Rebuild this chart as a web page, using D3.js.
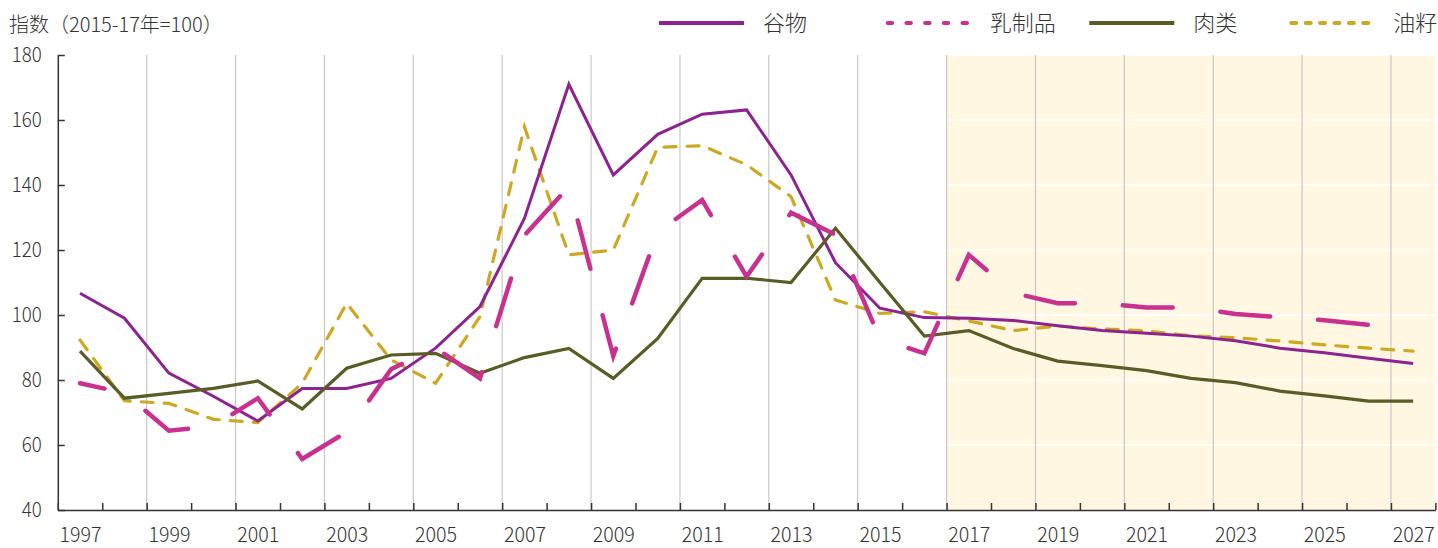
<!DOCTYPE html>
<html>
<head>
<meta charset="utf-8">
<script src="https://cdn.jsdelivr.net/npm/d3@7"></script>
<style>
  body { margin: 0; background: #fff; }
  svg text { font-family: "Noto Sans CJK SC", sans-serif; font-weight: 300; fill: #333; }
</style>
</head>
<body>
<div id="chart"></div>
<script>
// years on the x axis
var years = d3.range(1997, 2028);
var labelYears = years.filter(function (d) { return d % 2 === 1; });
var yTicks = [40, 60, 80, 100, 120, 140, 160, 180];

// index values (2015-17 = 100)
var cereals = [106.7, 99.0, 82.1, 75.0, 67.4, 77.4, 77.4, 80.5, 89.8, 102.6, 129.7, 171.0, 143.1, 155.6, 161.8, 163.1,
               143.1, 116.1, 102.1, 99.2, 99.0, 98.3, 96.7, 95.2, 94.4, 93.5, 92.1, 89.8, 88.4, 86.7, 85.1];
var dairy = [79.0, 76.0, 64.4, 65.8, 74.4, 55.7, 64.0, 83.3, 89.9, 80.5, 124.5, 139.5, 87.4, 125.5, 135.4, 111.8,
             131.5, 124.7, 92.7, 88.2, 118.5, 106.8, 103.6, 103.6, 102.3, 102.3, 100.3, 99.3, 98.4, 97.0, 96.0];
var meat = [88.9, 74.4, 75.9, 77.4, 79.7, 71.1, 83.6, 87.7, 88.2, 82.1, 86.9, 89.7, 80.5, 92.8, 111.3, 111.3,
            110.0, 126.7, 110.0, 93.5, 95.2, 89.7, 85.8, 84.4, 82.9, 80.5, 79.2, 76.6, 75.1, 73.5, 73.5];
var oilseeds = [92.3, 73.6, 72.8, 67.9, 66.9, 79.0, 103.6, 86.2, 79.0, 99.5, 157.9, 118.5, 120.0, 151.6, 152.1, 146.2,
                136.4, 104.6, 100.5, 101.0, 98.2, 95.2, 96.6, 95.7, 95.1, 93.6, 93.0, 92.0, 90.8, 89.8, 88.9];

var projectionStart = 2017;

var series = [
    { name: "谷物", values: cereals, color: "#8c2390", width: 3, dash: null, legendDash: null },
    { name: "乳制品", values: dairy, color: "#c8318f", width: 4.5, dash: "50 48", offset: 25, legendDash: "4.5 14.2" },
    { name: "肉类", values: meat, color: "#5a5c26", width: 3.2, dash: null, legendDash: null },
    { name: "油籽", values: oilseeds, color: "#cca823", width: 3.2, dash: "12 11", offset: 0, legendDash: "5 9.4" }
];
// draw order: oilseeds behind, then cereals, meat, dairy
var drawOrder = ["油籽", "谷物", "肉类", "乳制品"];

var width = 1438, height = 548;
var margin = { top: 55, right: 2.6, bottom: 38, left: 57.8 };

var svg = d3.select("#chart").append("svg")
    .attr("width", width)
    .attr("height", height);

var x = d3.scaleLinear()
    .domain([years[0] - 0.5, years[years.length - 1] + 0.5])
    .range([margin.left, width - margin.right]);
var y = d3.scaleLinear()
    .domain([40, 180])
    .range([height - margin.bottom, margin.top]);

// projection shading
svg.append("rect")
    .attr("x", x(projectionStart - 0.5))
    .attr("y", y(180))
    .attr("width", x.range()[1] - x(projectionStart - 0.5))
    .attr("height", y(40) - y(180))
    .attr("fill", "#fff7e1");

// horizontal gridlines (white, only visible on the shading)
svg.append("g")
    .selectAll("line")
    .data(yTicks.slice(1))
    .join("line")
    .attr("x1", x.range()[0])
    .attr("x2", x.range()[1])
    .attr("y1", function (d) { return y(d); })
    .attr("y2", function (d) { return y(d); })
    .attr("stroke", "#fff")
    .attr("stroke-width", 1.5);

// vertical gridlines at the left edge of every odd year
svg.append("g")
    .selectAll("line")
    .data(labelYears.slice(1))
    .join("line")
    .attr("x1", function (d) { return x(d - 0.5); })
    .attr("x2", function (d) { return x(d - 0.5); })
    .attr("y1", y(180))
    .attr("y2", y(40))
    .attr("stroke", "#c8c8c8")
    .attr("stroke-width", 1.2);

// x axis: ticks between years, labels every two years
var xAxisTicks = svg.append("g")
    .attr("transform", "translate(0," + y(40) + ")")
    .call(d3.axisBottom(x)
        .tickValues(years.map(function (d) { return d - 0.5; }).concat([years[years.length - 1] + 0.5]))
        .tickSizeInner(-7)
        .tickSizeOuter(0)
        .tickFormat(""));
xAxisTicks.select(".domain").attr("stroke", "#333").attr("stroke-width", 1.5);
xAxisTicks.selectAll(".tick line").attr("stroke", "#333").attr("stroke-width", 1.5);

var xAxisLabels = svg.append("g")
    .attr("transform", "translate(0," + y(40) + ")")
    .call(d3.axisBottom(x)
        .tickValues(labelYears)
        .tickSize(0)
        .tickPadding(17)
        .tickFormat(d3.format("d")));
xAxisLabels.select(".domain").remove();
xAxisLabels.selectAll(".tick text")
    .attr("font-size", "20.5px")
    .attr("textLength", 42)
    .attr("lengthAdjust", "spacingAndGlyphs")
    .attr("fill", "#333");

// y axis
var yAxis = svg.append("g")
    .attr("transform", "translate(" + x.range()[0] + ",0)")
    .call(d3.axisLeft(y)
        .tickValues(yTicks)
        .tickSizeInner(-7)
        .tickSizeOuter(0)
        .tickPadding(16));
yAxis.select(".domain").attr("stroke", "#333").attr("stroke-width", 1.5);
yAxis.selectAll(".tick line").attr("stroke", "#333").attr("stroke-width", 1.5);
yAxis.selectAll(".tick text")
    .attr("font-size", "20.5px")
    .attr("textLength", function (d) { return String(d).length * 10; })
    .attr("lengthAdjust", "spacingAndGlyphs")
    .attr("fill", "#333");

// series lines
var line = d3.line()
    .x(function (d, i) { return x(years[i]); })
    .y(function (d) { return y(d); });

drawOrder.forEach(function (name) {
    var s = series.find(function (d) { return d.name === name; });
    var p = svg.append("path")
        .datum(s.values)
        .attr("d", line)
        .attr("fill", "none")
        .attr("stroke", s.color)
        .attr("stroke-width", s.width)
        .attr("stroke-linejoin", "miter");
    if (s.dash) {
        p.attr("stroke-dasharray", s.dash)
            .attr("stroke-dashoffset", s.offset)
            .attr("stroke-linecap", "round");
    }
});

// title
svg.append("text")
    .attr("x", 9)
    .attr("y", 32)
    .attr("font-size", "20px")
    .attr("fill", "#333")
    .text("指数（2015-17年=100）");

// legend
var legendX = [659, 885.7, 1089.3, 1289.3];
var legend = svg.append("g").attr("transform", "translate(0,23)");
series.forEach(function (s, i) {
    var g = legend.append("g").attr("transform", "translate(" + legendX[i] + ",0)");
    var l = g.append("line")
        .attr("x1", 0)
        .attr("x2", 85)
        .attr("stroke", s.color)
        .attr("stroke-width", 4);
    if (s.legendDash) {
        l.attr("stroke-dasharray", s.legendDash).attr("stroke-linecap", "round").attr("x1", 2);
    }
    g.append("text")
        .attr("x", 104)
        .attr("dy", "0.36em")
        .attr("font-size", "22px")
        .attr("fill", "#333")
        .text(s.name);
});
</script>
</body>
</html>
